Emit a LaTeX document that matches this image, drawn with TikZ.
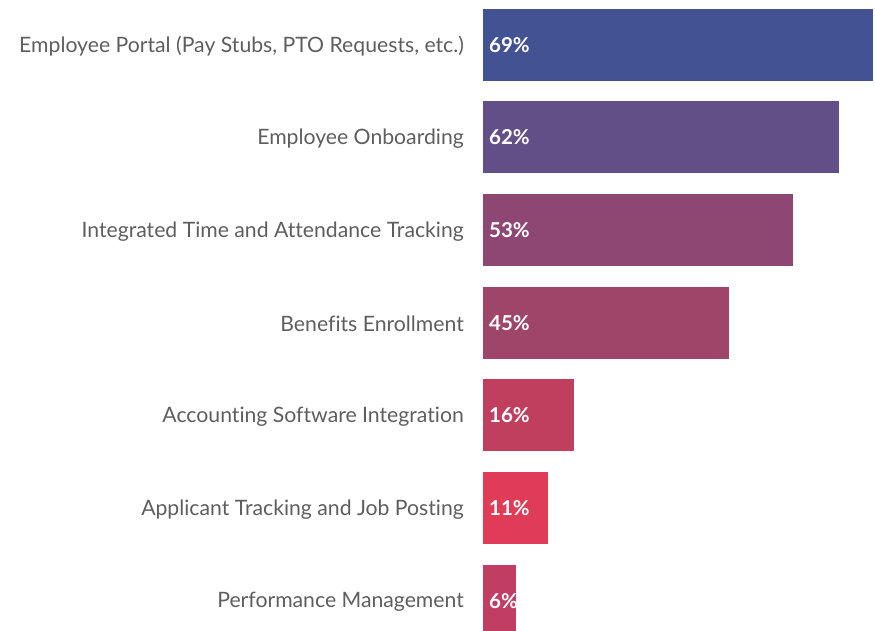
\documentclass[tikz,border=0pt]{standalone}
\usepackage{fontspec}
\setmainfont{Lato}[Ligatures=NoCommon]
\usepackage{tikz}
\definecolor{barA}{HTML}{425293}
\definecolor{barB}{HTML}{634F87}
\definecolor{barC}{HTML}{8E4672}
\definecolor{barD}{HTML}{A0456A}
\definecolor{barE}{HTML}{C03F5F}
\definecolor{barF}{HTML}{E03C57}
\definecolor{barG}{HTML}{C13E62}
\definecolor{labgray}{HTML}{5E5E5E}

\begin{document}
\begin{tikzpicture}[x=1pt, y=1pt,
	bar/.style={anchor=north west, inner sep=0pt, minimum height=72pt},
	pct/.style={anchor=west, inner sep=0pt, text=white, font=\fontsize{20.5}{24}\selectfont\bfseries},
	cat/.style={anchor=east, inner sep=0pt, text=labgray, font=\fontsize{21.2}{25}\selectfont}]
	\useasboundingbox (0,0) rectangle (875,-631);
	\begin{scope}
	\clip (0,0) rectangle (875,-631);
	\foreach \y/\w/\c/\v/\t [count=\i] in {
		9/390/barA/69/{Employee Portal (Pay Stubs, PTO Requests, etc.)},
		101/356/barB/62/{Employee Onboarding},
		194/310/barC/53/{Integrated Time and Attendance Tracking},
		287/246/barD/45/{Benefits Enrollment},
		379/91/barE/16/{Accounting Software Integration},
		472/65/barF/11/{Applicant Tracking and Job Posting},
		565/33/barG/6/{Performance Management}}
	{
		\node[bar, fill=\c, minimum width=\w pt] (bar\i) at (483,-\y) {};
		\node[cat] (cat\i) at ([xshift=-19pt, yshift=-1pt]bar\i.west) {\t};
		\node[pct] (pct\i) at ([xshift=6pt, yshift=0pt]bar\i.west) {\v\%};
	}
	\end{scope}
\end{tikzpicture}
\end{document}
